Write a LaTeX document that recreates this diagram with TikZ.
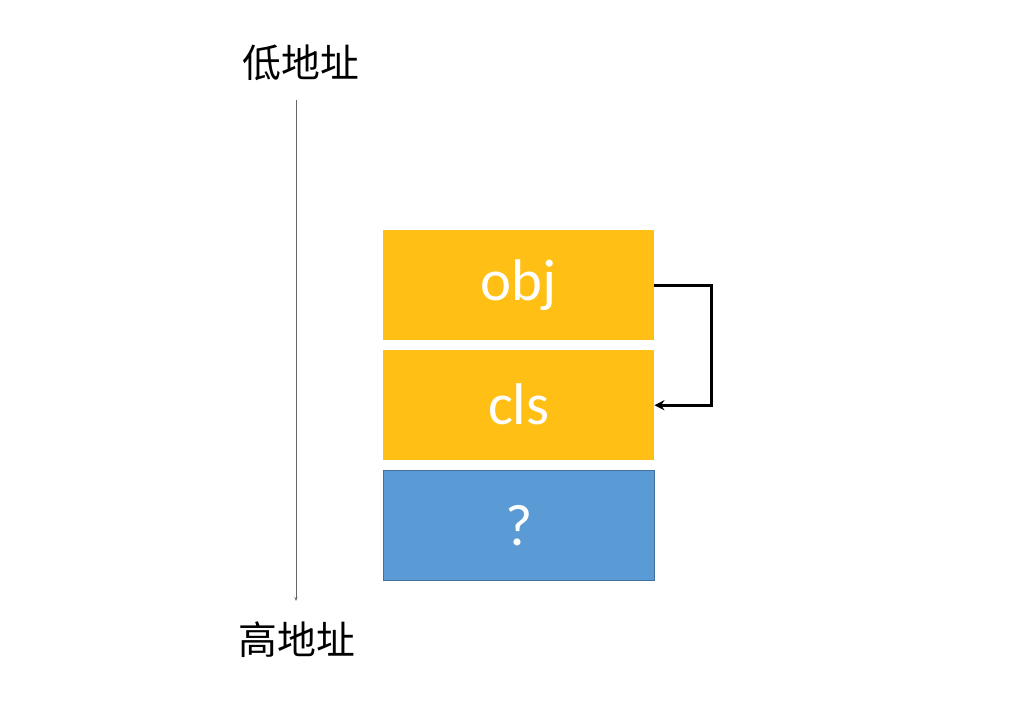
\documentclass[tikz,border=0pt]{standalone}
\usepackage{fontspec}
\setmainfont{Carlito}
\newfontfamily\cjk{Noto Sans CJK SC}
\usetikzlibrary{arrows.meta}
\definecolor{boxyellow}{HTML}{FFBF14}
\definecolor{boxblue}{HTML}{5B9BD5}
\definecolor{boxblueline}{HTML}{41719C}
\begin{document}
\begin{tikzpicture}[x=1bp,y=-1bp,
  cell/.style={minimum width=271bp,minimum height=110bp,inner sep=0pt,anchor=north west,text=white,font=\fontsize{59}{59}\selectfont},
  ybox/.style={cell,fill=boxyellow},
  bbox/.style={cell,fill=boxblue,draw=boxblueline,line width=1.2bp},
  lab/.style={font=\cjk\fontsize{39}{39}\selectfont,inner sep=0pt},
  link/.style={line width=3bp,-{Stealth[length=10bp,width=10bp]}}]
\useasboundingbox (0,0) rectangle (1024,721);
\node[lab] (low) at (301,63) {低地址};
\node[lab] (high) at (297,640) {高地址};
\coordinate (top) at (296,100);
\coordinate (bot) at (296,601);
\draw[gray!80!black,line width=1bp,-{Stealth[length=4bp,width=3bp]}] (top) -- (bot);
\node[ybox] (obj) at (383,230) {\raisebox{2bp}{obj}};
\node[ybox] (cls) at (383,350) {\raisebox{3bp}{cls}};
\node[bbox] (q) at (383,470) {?};
\draw[link] (obj.east) -- ++(57,0) |- (cls.east);
\end{tikzpicture}
\end{document}
